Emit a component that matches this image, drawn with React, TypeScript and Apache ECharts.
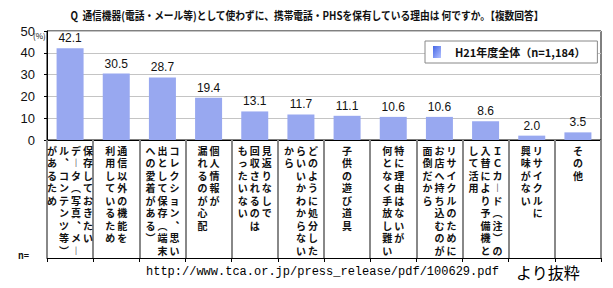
import React, { useEffect, useRef } from "react";
import * as echarts from "echarts";

const titleText =
  "Q  通信機器(電話・メール等)として使わずに、携帯電話・PHSを保有している理由は 何ですか。【複数回答】";
const seriesName = "H21年度全体（n=1,184）";
const unitText = "(%)";
const nText = "n=";
const sourceUrl = "http://www.tca.or.jp/press_release/pdf/100629.pdf";
const sourceNote = "より抜粋";

// each category label, written as vertical columns (first = rightmost)
const categoryColumns: string[][] = [
  ["保存しておきたい", "データ（写真、メー", "ル、コンテンツ等）", "があるため"],
  ["通信以外の機能を", "利用しているため"],
  ["コレクション、思い", "出として保存（端末", "への愛着がある）"],
  ["個人情報が", "漏れるのが心配"],
  ["見返りなしで", "回収されるのは", "もったいない"],
  ["どのように処分した", "らいいかわからない", "から"],
  ["子供の遊び道具"],
  ["特に理由はないが", "何となく手放し難い"],
  ["リサイクルのために", "お店へ持ち込むのが", "面倒だから"],
  ["ＩＣカード（注）の", "入替により予備機と", "して活用"],
  ["リサイクルに", "興味がない"],
  ["その他"],
];
const categories = categoryColumns.map((c) => c.join(""));
const values = [42.1, 30.5, 28.7, 19.4, 13.1, 11.7, 11.1, 10.6, 10.6, 8.6, 2.0, 3.5];
const yMin = 0;
const yMax = 50;
const yStep = 10;

const vmap: Record<string, string> = {
  "（": "︵",
  "）": "︶",
  "ー": "︱",
  "、": "︑",
  "。": "︒",
};

function verticalLabel(_v: string, index: number): string {
  const cols = categoryColumns[index].map((c) => Array.from(c));
  const rows = Math.max(...cols.map((c) => c.length));
  const lines: string[] = [];
  for (let r = 0; r < rows; r++) {
    let line = "";
    for (let c = cols.length - 1; c >= 0; c--) {
      const ch = cols[c][r] || "　";
      line += `{c|${vmap[ch] ?? ch}}`;
    }
    lines.push(line);
  }
  return lines.join("\n");
}

export default function App() {
  const ref = useRef<HTMLDivElement>(null);
  useEffect(() => {
    if (!ref.current) return;
    const chart = echarts.init(ref.current, null, { renderer: "svg" });
    const cjk = "'Noto Sans CJK JP', sans-serif";
    chart.setOption({
      animation: false,
      backgroundColor: "#fff",
      grid: {
        left: 47,
        right: 12,
        top: 31,
        bottom: 148,
        show: true,
        borderColor: "#000",
        borderWidth: 1,
        backgroundColor: "transparent",
      },
      legend: {
        left: 425,
        top: 41,
        padding: [5, 12, 5, 8],
        itemWidth: 8,
        itemHeight: 12,
        icon: "rect",
        borderColor: "#888",
        borderWidth: 1,
        backgroundColor: "#fff",
        textStyle: {
          fontSize: 11,
          fontWeight: "bold",
          fontFamily: cjk,
          color: "#111",
          padding: [0, 0, 0, 9],
        },
        data: [
          {
            name: seriesName,
            itemStyle: {
              color: new echarts.graphic.LinearGradient(0, 0, 1, 1, [
                { offset: 0, color: "#4466e6" },
                { offset: 1, color: "#b4c2ff" },
              ]),
            },
          },
        ],
      },
      xAxis: [
        {
          type: "category",
          data: categories,
          position: "bottom",
          boundaryGap: true,
          axisLine: { show: true, lineStyle: { color: "#000", width: 1 } },
          axisTick: {
            show: true,
            interval: 0,
            length: 118,
            lineStyle: { color: "#888", width: 2 },
          },
          axisLabel: {
            interval: 0,
            margin: 4,
            verticalAlign: "top",
            formatter: verticalLabel,
            rich: {
              c: {
                width: 12,
                align: "center",
                fontSize: 10,
                fontWeight: "bold",
                lineHeight: 12.5,
                fontFamily: cjk,
                color: "#111",
              },
            },
          },
        },
        {
          type: "category",
          data: categories,
          position: "bottom",
          offset: 118,
          boundaryGap: true,
          axisLine: { show: true, lineStyle: { color: "#000", width: 1 } },
          axisTick: { show: true, interval: 0, length: 4, lineStyle: { color: "#000" } },
          axisLabel: { show: false },
        },
      ],
      yAxis: {
        type: "value",
        min: yMin,
        max: yMax,
        interval: yStep,
        axisLine: { show: true, lineStyle: { color: "#000" } },
        axisTick: { show: true, length: 3, lineStyle: { color: "#000" } },
        axisLabel: {
          fontSize: 13,
          color: "#111",
          margin: 12,
          fontFamily: "'Liberation Sans', Arial, sans-serif",
        },
        splitLine: { show: true, lineStyle: { color: "#c4c4c4", width: 1 } },
      },
      series: [
        {
          name: seriesName,
          type: "bar",
          data: values,
          barWidth: 27,
          itemStyle: { color: "#98a8f0" },
          label: {
            show: true,
            position: "top",
            distance: 4,
            fontSize: 12,
            color: "#111",
            fontFamily: "'Liberation Sans', Arial, sans-serif",
            formatter: (p: any) => Number(p.value).toFixed(1),
          },
        },
      ],
      graphic: [
        {
          type: "text",
          x: 307,
          y: 15,
          scaleX: 0.885,
          style: {
            text: titleText,
            textAlign: "center",
            textVerticalAlign: "middle",
            fontSize: 11,
            fontWeight: "bold",
            fontFamily: cjk,
            fill: "#111",
          },
        },
        {
          type: "text",
          x: 33,
          y: 35,
          style: {
            text: unitText,
            textAlign: "left",
            textVerticalAlign: "middle",
            fontSize: 8,
            fontFamily: cjk,
            fill: "#111",
          },
        },
        {
          type: "text",
          x: 18,
          y: 255,
          style: {
            text: nText,
            textAlign: "left",
            textVerticalAlign: "middle",
            fontSize: 9,
            fontWeight: "bold",
            fontFamily: cjk,
            fill: "#111",
          },
        },
        {
          type: "text",
          x: 146,
          y: 272,
          style: {
            text: sourceUrl,
            textAlign: "left",
            textVerticalAlign: "middle",
            fontSize: 12,
            fontFamily: "'Liberation Mono', monospace",
            fill: "#000",
          },
        },
        {
          type: "text",
          x: 516,
          y: 272,
          style: {
            text: sourceNote,
            textAlign: "left",
            textVerticalAlign: "middle",
            fontSize: 16,
            fontFamily: cjk,
            fill: "#000",
          },
        },
      ],
    });
    return () => chart.dispose();
  }, []);
  return (
    <div
      ref={ref}
      style={{ position: "fixed", left: 0, top: 0, width: 613, height: 288 }}
    />
  );
}
